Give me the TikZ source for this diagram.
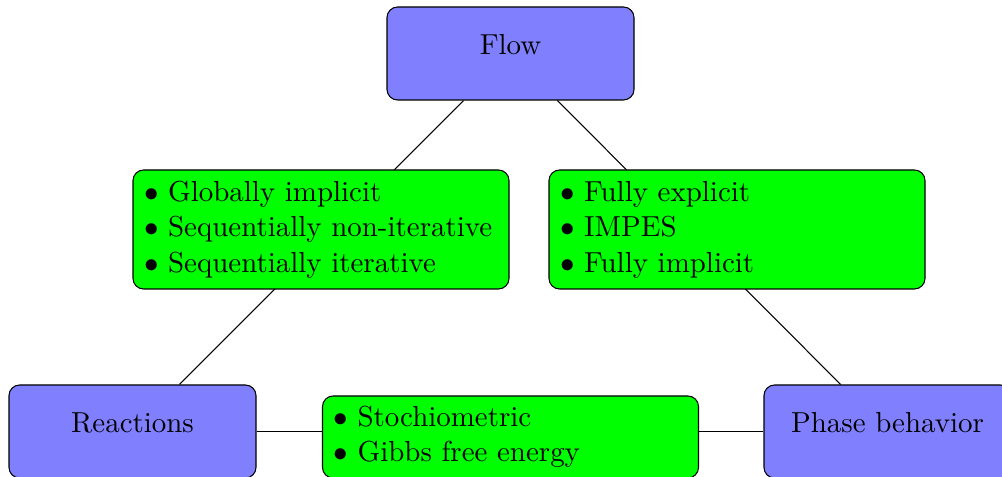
\documentclass[tikz,border=0pt]{standalone}
\newcommand{\pu}{0.3784pt}
\tikzset{
  basefont/.style={font=\fontsize{10.95}{13.42}\selectfont},
  bluebox/.style={basefont, draw, fill=blue!50, rounded corners,
    minimum width={247*\pu}, minimum height={93*\pu},
    text height=7.6pt, text depth=7.2pt},
  greenbox/.style={basefont, draw, fill=green, rounded corners, align=left,
    text width={354*\pu}, inner xsep={11*\pu}, inner ysep=0pt},
  link/.style={draw, line width=0.4pt}
}
\begin{document}
\begin{tikzpicture}[x=\pu, y=-\pu]
  \useasboundingbox (0,0) rectangle (1002,477);
  \clip (0,0) rectangle (1002,477);
  \node[bluebox] (flow)  at (510.5,53.5)  {Flow};
  \node[bluebox] (reac)  at (132.5,431.5) {Reactions};
  \node[bluebox] (phase) at (887.5,431.5) {Phase behavior};
  \draw[link] (flow) -- (reac);
  \draw[link] (flow) -- (phase);
  \draw[link] (reac) -- (phase);
  \node[greenbox, minimum height={119*\pu}] (coupl) at (321,229.5)
    {$\bullet$ Globally implicit\\ $\bullet$ Sequentially non-iterative\\ $\bullet$ Sequentially iterative};
  \node[greenbox, minimum height={119*\pu}] (time) at (737,229.5)
    {$\bullet$ Fully explicit\\ $\bullet$ IMPES\\ $\bullet$ Fully implicit};
  \node[greenbox, minimum height={82*\pu}] (chem) at (510.5,437)
    {$\bullet$ Stochiometric\\ $\bullet$ Gibbs free energy};
\end{tikzpicture}
\end{document}
